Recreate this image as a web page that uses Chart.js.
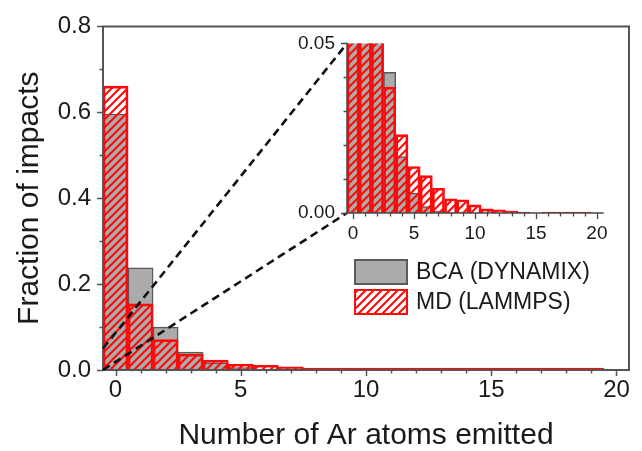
<!DOCTYPE html>
<html><head><meta charset="utf-8">
<script src="https://cdn.jsdelivr.net/npm/chart.js@4.4.1/dist/chart.umd.min.js"></script>
<style>
html,body{margin:0;padding:0;background:#fff;}
#wrap{position:relative;width:642px;height:451px;overflow:hidden;}
#main{position:absolute;left:0;top:0;}
#inset{position:absolute;left:280px;top:20px;}
</style></head><body>
<div id="wrap">
<canvas id="main" width="642" height="451"></canvas>
<canvas id="inset" width="345" height="245"></canvas>
</div>
<script>
// ---- data ----
const atomsEmitted = [0,1,2,3,4,5,6,7,8,9,10,11,12,13,14,15,16,17,18,19];
const bcaFraction  = [0.596,0.238,0.100,0.0415,0.0166,0.0059,0.0019,0.0006,0.0002,0.0001,0,0,0,0,0,0,0,0,0,0];
const mdFraction   = [0.661,0.154,0.0706,0.0371,0.0231,0.0137,0.0110,0.0073,0.0042,0.0039,0.0024,0.0012,0.0009,0.0006,0.0003,0,0.0003,0.0003,0.0003,0.0003];
const mainXTicks  = [0,5,10,15,20];
const mainYTicks  = [0,0.2,0.4,0.6,0.8];
const insetXTicks = [0,5,10,15,20];
const insetYTicks = [0,0.05];
const bcaLabel = 'BCA (DYNAMIX)';
const mdLabel  = 'MD (LAMMPS)';
const xTitle = 'Number of Ar atoms emitted';
const yTitle = 'Fraction of impacts';

const FONT = "'Liberation Sans', Arial, sans-serif";
const TXT = '#1a1a1a';
const GRAY_FILL = '#ababab';
const GRAY_EDGE = '#5a5a5a';
const RED = '#ff0a0a';

function hatch(ctx){
  const s = 8, c = document.createElement('canvas');
  c.width = s; c.height = s;
  const g = c.getContext('2d');
  g.strokeStyle = RED; g.lineWidth = 2.1;
  g.beginPath();
  g.moveTo(-2, s+2); g.lineTo(s+2, -2);
  g.moveTo(-2-s, s+2); g.lineTo(2, -2);
  g.moveTo(s-2, s+2); g.lineTo(2*s+2, -2);
  g.stroke();
  return ctx.createPattern(c, 'repeat');
}

function points(vals){ return atomsEmitted.map((a,i)=>({x:a, y:vals[i]})); }

function datasets(ctx, minLen){
  return [
    {label: mdLabel, data: points(mdFraction), backgroundColor: hatch(ctx), borderColor: RED, borderWidth: 2, order: 1, grouped:false, barPercentage:1, categoryPercentage:1, minBarLength: minLen},
    {label: bcaLabel, data: points(bcaFraction), backgroundColor: GRAY_FILL, borderColor: GRAY_EDGE, borderWidth: 1.5, order: 2, grouped:false, barPercentage:1, categoryPercentage:1}
  ];
}

// axis frame + major/minor outward ticks
const axesDeco = {
  id: 'axesDeco',
  afterDatasetsDraw(chart, args, o){
    const {ctx, chartArea:a, scales:{x, y}} = chart;
    ctx.save();
    ctx.strokeStyle = o.color; ctx.lineWidth = o.width; ctx.lineCap = 'square';
    ctx.beginPath();
    if (o.box){ ctx.rect(a.left, a.top, a.right-a.left, a.bottom-a.top); }
    else { ctx.moveTo(a.left, a.top); ctx.lineTo(a.left, a.bottom); ctx.lineTo(a.right, a.bottom); }
    ctx.stroke();
    ctx.lineCap = 'butt'; ctx.lineWidth = o.tickWidth;
    ctx.beginPath();
    const nx = Math.round((o.xMax - o.xMin)/o.xMinor);
    for (let i=0;i<=nx;i++){
      const v = o.xMin + i*o.xMinor, px = Math.round(x.getPixelForValue(v)) + 0.5;
      const len = (i % o.xEvery === 0) ? o.major : o.minor;
      ctx.moveTo(px, a.bottom); ctx.lineTo(px, a.bottom + len);
    }
    const ny = Math.round((o.yMax - o.yMin)/o.yMinor);
    for (let i=0;i<=ny;i++){
      const v = o.yMin + i*o.yMinor, py = Math.round(y.getPixelForValue(v)) + 0.5;
      const len = (i % o.yEvery === 0) ? o.major : o.minor;
      ctx.moveTo(a.left, py); ctx.lineTo(a.left - len, py);
    }
    ctx.stroke();
    ctx.restore();
  }
};

// ---- inset chart ----
const insetCanvas = document.getElementById('inset');
const ictx = insetCanvas.getContext('2d');
const insetChart = new Chart(ictx, {
  type: 'bar',
  data: { datasets: datasets(ictx, 0) },
  options: {
    responsive: false, animation: false, devicePixelRatio: 1,
    layout: { padding: { top: 23, right: 22, left: 0, bottom: 0 } },
    plugins: { legend: {display:false}, tooltip:{enabled:false},
      axesDeco: {box:false, color:'#4a4a4a', width:1.5, tickWidth:1.3, major:6, minor:3.5,
        xMin:0, xMax:20, xMinor:1, xEvery:5, yMin:0, yMax:0.05, yMinor:0.01, yEvery:5} },
    scales: {
      x: { type:'linear', min:-0.5, max:20.5, offset:false,
        grid:{display:false, drawTicks:false}, border:{display:false},
        afterBuildTicks: s => { s.ticks = insetXTicks.map(v=>({value:v})); },
        afterFit: s => { s.height = 52; },
        ticks:{font:{family:FONT,size:19}, color:TXT, padding:9, maxRotation:0, autoSkip:false, callback:v=>String(v)} },
      y: { min:0, max:0.05,
        grid:{display:false, drawTicks:false}, border:{display:false},
        afterBuildTicks: s => { s.ticks = insetYTicks.map(v=>({value:v})); },
        afterFit: s => { s.width = 67; },
        ticks:{font:{family:FONT,size:19}, color:TXT, padding:12, callback:v=>Number(v).toFixed(2)} }
    }
  },
  plugins: [axesDeco]
});

// zoom connectors + legend on main chart
const extras = {
  id: 'extras',
  afterDraw(chart){
    const {ctx, scales:{x, y}} = chart;
    const ix = insetChart.scales.x, iy = insetChart.scales.y;
    const ox = insetCanvas.offsetLeft, oy = insetCanvas.offsetTop;
    ctx.save();
    ctx.strokeStyle = '#111'; ctx.lineWidth = 2.6; ctx.setLineDash([8,5]);
    for (const v of [iy.max, iy.min]){
      ctx.beginPath();
      ctx.moveTo(x.getPixelForValue(ix.min), y.getPixelForValue(v));
      ctx.lineTo(ox + ix.getPixelForValue(ix.min), oy + iy.getPixelForValue(v));
      ctx.stroke();
    }
    ctx.setLineDash([]);
    // legend
    const ds = chart.data.datasets;
    const order = [ds[1], ds[0]];
    const bx = 354, by = 259, bw = 54, bh = 26, gap = 4;
    ctx.font = "23px " + FONT; ctx.textBaseline = 'middle'; ctx.fillStyle = TXT;
    order.forEach((d, i) => {
      const top = by + i*(bh+gap);
      ctx.fillStyle = d.backgroundColor; ctx.fillRect(bx, top, bw, bh);
      ctx.strokeStyle = d.borderColor; ctx.lineWidth = 2;
      ctx.strokeRect(bx+1, top+1, bw-2, bh-2);
      ctx.fillStyle = TXT; ctx.fillText(d.label, bx + bw + 8, top + bh/2 + 1);
    });
    ctx.restore();
  }
};

const mctx = document.getElementById('main').getContext('2d');
new Chart(mctx, {
  type: 'bar',
  data: { datasets: datasets(mctx, 2) },
  options: {
    responsive: false, animation: false, devicePixelRatio: 1,
    layout: { padding: { top: 19, right: 13, left: 0, bottom: 0 } },
    plugins: { legend: {display:false}, tooltip:{enabled:false},
      axesDeco: {box:true, color:'#555', width:2, tickWidth:1.5, major:6, minor:3.5,
        xMin:0, xMax:20, xMinor:1, xEvery:5, yMin:0, yMax:0.8, yMinor:0.1, yEvery:2} },
    scales: {
      x: { type:'linear', min:-0.5, max:20.5, offset:false,
        grid:{display:false, drawTicks:false}, border:{display:false},
        afterBuildTicks: s => { s.ticks = mainXTicks.map(v=>({value:v})); },
        afterFit: s => { s.height = 81; },
        ticks:{font:{family:FONT,size:24}, color:TXT, padding:6, maxRotation:0, autoSkip:false, callback:v=>String(v)},
        title:{display:true, text:xTitle, color:TXT, font:{family:FONT,size:30,lineHeight:1.1}, padding:{top:0,bottom:-1}} },
      y: { min:0, max:0.8,
        grid:{display:false, drawTicks:false}, border:{display:false},
        afterBuildTicks: s => { s.ticks = mainYTicks.map(v=>({value:v})); },
        afterFit: s => { s.width = 103; },
        ticks:{font:{family:FONT,size:24}, color:TXT, padding:12, callback:v=>Number(v).toFixed(1)},
        title:{display:true, text:yTitle, color:TXT, font:{family:FONT,size:30,lineHeight:1.1}, padding:{top:13,bottom:0}} }
    }
  },
  plugins: [axesDeco, extras]
});
</script>
</body></html>
